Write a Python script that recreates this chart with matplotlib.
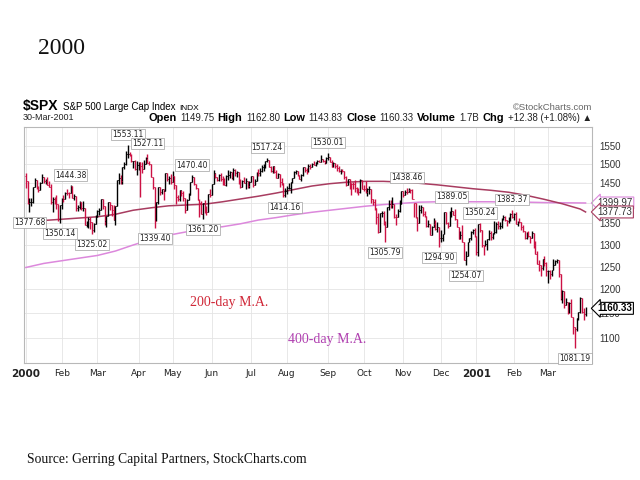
import matplotlib
matplotlib.use('Agg')
import numpy as np
import matplotlib.pyplot as plt
from matplotlib.offsetbox import TextArea, HPacker, AnnotationBbox

# daily S&P 500 bars, 3 Jan 2000 .. 30 Mar 2001
closes = [
    # Jan 2000
    1455.22, 1399.42, 1402.11, 1403.45, 1441.47, 1457.60, 1438.56, 1432.25, 1449.68, 1465.15,
    1455.14, 1455.90, 1445.57, 1441.36, 1401.53, 1410.03, 1404.09, 1398.56, 1360.16, 1394.46,
    # Feb
    1409.28, 1409.12, 1424.97, 1424.37, 1424.24, 1441.72, 1411.71, 1416.83, 1387.12, 1389.94,
    1402.05, 1387.67, 1388.26, 1346.09, 1352.17, 1360.69, 1353.43, 1333.36, 1348.05, 1366.42,
    # Mar
    1379.19, 1381.76, 1409.17, 1391.28, 1355.62, 1366.70, 1401.69, 1395.07, 1383.62, 1359.15,
    1392.14, 1458.47, 1464.47, 1456.63, 1493.87, 1500.64, 1527.35, 1527.46, 1523.86, 1507.73,
    1508.52, 1487.92, 1498.58,
    # Apr
    1505.97, 1494.73, 1487.37, 1501.34, 1516.35, 1504.46, 1500.59, 1467.17, 1440.51, 1356.56,
    1401.44, 1441.61, 1427.47, 1434.54, 1429.86, 1477.44, 1460.99, 1464.92, 1452.43,
    # May
    1468.25, 1446.29, 1415.10, 1409.57, 1432.63, 1424.17, 1412.14, 1383.05, 1407.81, 1420.96,
    1452.36, 1466.04, 1447.80, 1437.21, 1406.95, 1400.72, 1373.86, 1399.05, 1381.52, 1378.02,
    1422.45, 1420.60,
    # Jun
    1448.81, 1477.26, 1467.63, 1457.84, 1471.36, 1461.67, 1456.95, 1446.00, 1469.44, 1470.54,
    1478.73, 1464.46, 1486.00, 1475.95, 1479.13, 1452.18, 1441.48, 1455.31, 1450.55, 1454.82,
    1442.39, 1454.60,
    # Jul
    1469.54, 1446.23, 1456.67, 1478.90, 1475.62, 1480.88, 1492.92, 1495.84, 1509.98, 1510.49,
    1493.74, 1481.96, 1495.57, 1480.19, 1464.29, 1474.47, 1452.42, 1449.62, 1419.89, 1430.83,
    # Aug
    1438.10, 1438.70, 1452.56, 1462.93, 1479.32, 1482.80, 1472.87, 1460.25, 1471.84, 1491.56,
    1484.43, 1479.85, 1496.07, 1491.72, 1499.48, 1498.13, 1505.97, 1508.31, 1506.45, 1514.09,
    1509.84, 1502.59, 1517.68,
    # Sep
    1520.77, 1507.08, 1492.25, 1502.51, 1494.50, 1489.26, 1481.99, 1484.91, 1480.87, 1465.81,
    1444.51, 1459.90, 1451.34, 1449.05, 1448.72, 1439.03, 1427.21, 1426.57, 1458.29, 1436.51,
    # Oct
    1436.23, 1426.46, 1434.32, 1436.28, 1408.99, 1402.03, 1387.02, 1364.59, 1329.78, 1374.17,
    1374.62, 1349.97, 1342.13, 1388.76, 1396.93, 1395.78, 1398.13, 1364.90, 1364.44, 1379.58,
    1398.66, 1429.40,
    # Nov
    1421.22, 1428.32, 1426.69, 1432.19, 1431.87, 1409.28, 1400.14, 1365.98, 1351.26, 1382.95,
    1389.81, 1372.32, 1367.72, 1342.62, 1347.35, 1322.36, 1341.77, 1348.97, 1336.09, 1341.93,
    1314.95,
    # Dec
    1315.23, 1324.97, 1376.54, 1351.46, 1343.55, 1369.89, 1380.20, 1371.18, 1359.99, 1340.93,
    1312.15, 1322.74, 1305.60, 1264.74, 1274.86, 1305.95, 1315.19, 1328.92, 1334.22, 1320.28,
    # Jan 2001
    1283.27, 1347.56, 1333.34, 1298.35, 1295.86, 1300.80, 1313.27, 1326.82, 1318.55, 1326.65,
    1329.47, 1347.97, 1342.54, 1342.90, 1360.40, 1364.30, 1357.51, 1354.95, 1364.17, 1373.73,
    1366.01,
    # Feb
    1373.47, 1349.47, 1354.31, 1352.26, 1340.89, 1332.53, 1314.76, 1330.31, 1318.80, 1315.92,
    1326.61, 1301.53, 1278.94, 1255.27, 1252.82, 1245.86, 1267.65, 1257.94, 1239.94,
    # Mar
    1241.23, 1234.18, 1241.41, 1253.80, 1261.89, 1264.74, 1233.42, 1180.16, 1197.66, 1166.71,
    1173.56, 1150.53, 1170.81, 1142.62, 1122.14, 1117.58, 1139.83, 1152.69, 1182.17, 1153.29,
    1147.95, 1160.33,
]

highs = [
    1478.00, 1455.22, 1413.27, 1411.90, 1441.47, 1464.36, 1458.66, 1442.60, 1454.32, 1473.00,
    1465.71, 1461.32, 1465.71, 1454.97, 1448.00, 1414.90, 1416.00, 1418.86, 1398.56, 1394.48,
    1412.49, 1420.61, 1427.38, 1435.91, 1427.38, 1444.38, 1441.72, 1422.10, 1416.83, 1395.46,
    1404.55, 1403.39, 1404.55, 1388.59, 1356.20, 1365.07, 1365.10, 1353.43, 1351.10, 1369.63,
    1383.46, 1387.17, 1410.88, 1409.17, 1391.28, 1367.78, 1402.34, 1401.69, 1395.07, 1395.16,
    1393.16, 1458.47, 1477.33, 1470.30, 1493.87, 1505.08, 1534.63, 1553.11, 1534.25, 1527.46,
    1510.00, 1512.63, 1509.26,
    1507.00, 1505.97, 1506.00, 1511.84, 1518.68, 1527.11, 1509.29, 1500.59, 1467.17, 1440.51,
    1401.44, 1441.61, 1441.61, 1436.00, 1434.54, 1477.67, 1477.44, 1470.00, 1473.62,
    1481.51, 1468.25, 1446.29, 1420.99, 1433.00, 1432.63, 1430.28, 1412.14, 1410.03, 1425.78,
    1452.36, 1470.40, 1466.04, 1447.80, 1437.21, 1410.55, 1403.77, 1399.05, 1407.48, 1391.42,
    1422.45, 1434.49,
    1448.81, 1483.63, 1477.28, 1467.63, 1474.64, 1475.65, 1468.00, 1462.93, 1470.42, 1483.62,
    1482.04, 1480.77, 1488.93, 1487.00, 1482.19, 1479.13, 1459.94, 1459.66, 1467.63, 1465.00,
    1454.82, 1454.68,
    1469.54, 1469.54, 1461.65, 1480.00, 1486.56, 1489.75, 1497.69, 1501.39, 1509.98, 1517.24,
    1510.49, 1494.50, 1495.63, 1495.57, 1485.88, 1476.23, 1474.47, 1464.74, 1449.62, 1437.65,
    1442.93, 1451.59, 1454.19, 1462.93, 1480.80, 1484.52, 1483.06, 1472.87, 1475.15, 1491.64,
    1491.56, 1490.00, 1499.47, 1499.44, 1502.84, 1508.45, 1507.20, 1511.16, 1512.61, 1525.21,
    1514.81, 1510.49, 1518.49,
    1530.01, 1520.77, 1512.61, 1506.23, 1502.51, 1500.52, 1496.65, 1487.45, 1487.12, 1480.96,
    1467.77, 1461.16, 1459.90, 1451.34, 1453.72, 1457.42, 1440.43, 1437.22, 1461.69, 1458.29,
    1445.60, 1454.82, 1439.10, 1443.84, 1436.28, 1409.69, 1408.83, 1387.02, 1374.04, 1374.81,
    1379.16, 1380.99, 1356.65, 1389.93, 1408.47, 1406.96, 1415.10, 1398.13, 1372.72, 1384.57,
    1406.36, 1429.40,
    1429.40, 1433.26, 1438.46, 1438.00, 1436.05, 1436.22, 1400.14, 1400.14, 1365.98, 1394.76,
    1395.96, 1389.81, 1380.10, 1367.72, 1359.23, 1347.35, 1343.83, 1362.50, 1358.81, 1352.38,
    1341.93,
    1334.67, 1324.97, 1376.56, 1376.54, 1353.50, 1380.33, 1389.05, 1380.27, 1385.82, 1359.99,
    1340.93, 1332.32, 1346.44, 1305.60, 1285.31, 1305.97, 1315.94, 1332.03, 1335.93, 1340.10,
    1320.28, 1347.76, 1350.24, 1334.77, 1298.35, 1311.72, 1313.76, 1333.21, 1332.95, 1327.81,
    1354.55, 1352.99, 1354.56, 1353.24, 1362.90, 1369.75, 1367.35, 1357.51, 1365.54, 1375.68,
    1383.37,
    1376.38, 1376.77, 1354.98, 1363.55, 1352.26, 1345.48, 1332.53, 1330.31, 1331.29, 1320.73,
    1331.29, 1326.61, 1307.64, 1285.21, 1263.95, 1252.82, 1267.65, 1272.76, 1259.83,
    1241.84, 1242.55, 1241.41, 1267.42, 1263.86, 1266.50, 1264.74, 1233.42, 1197.83, 1197.66,
    1182.04, 1173.56, 1173.50, 1180.56, 1142.62, 1122.14, 1140.40, 1152.69, 1183.35, 1182.17,
    1161.69, 1162.80,
]

lows = [
    1438.36, 1397.43, 1377.68, 1392.10, 1400.73, 1441.47, 1434.42, 1427.21, 1432.25, 1449.68,
    1451.05, 1448.15, 1445.57, 1439.60, 1397.43, 1378.80, 1398.00, 1385.00, 1356.20, 1350.14,
    1384.79, 1403.50, 1409.12, 1420.09, 1413.33, 1424.24, 1411.65, 1406.81, 1380.90, 1380.07,
    1385.62, 1383.10, 1380.36, 1345.32, 1341.85, 1339.84, 1336.72, 1325.02, 1330.14, 1348.05,
    1364.54, 1370.09, 1381.76, 1386.10, 1345.51, 1342.50, 1366.70, 1381.40, 1366.71, 1358.71,
    1346.89, 1392.14, 1448.78, 1448.49, 1448.49, 1487.09, 1497.48, 1516.93, 1520.99, 1505.34,
    1490.95, 1484.12, 1472.80,
    1485.90, 1416.00, 1478.00, 1486.50, 1501.34, 1504.46, 1497.45, 1465.80, 1436.50, 1339.40,
    1356.56, 1397.60, 1420.27, 1422.27, 1407.13, 1429.86, 1456.98, 1448.60, 1448.15,
    1452.43, 1436.29, 1398.36, 1405.40, 1405.40, 1417.01, 1404.08, 1375.79, 1383.05, 1407.81,
    1420.96, 1452.36, 1446.10, 1436.22, 1406.95, 1365.05, 1372.50, 1361.20, 1374.81, 1369.75,
    1378.02, 1415.50,
    1420.60, 1448.81, 1464.68, 1454.75, 1455.42, 1456.22, 1445.55, 1445.05, 1442.38, 1458.20,
    1463.34, 1460.03, 1459.71, 1470.23, 1466.00, 1448.04, 1438.95, 1441.48, 1450.00, 1435.00,
    1438.71, 1438.68,
    1454.60, 1439.34, 1444.53, 1456.67, 1470.00, 1470.00, 1480.05, 1483.37, 1491.09, 1505.26,
    1491.41, 1478.41, 1477.91, 1477.52, 1463.80, 1462.93, 1440.00, 1445.33, 1414.45, 1414.16,
    1422.85, 1436.47, 1425.43, 1450.00, 1462.93, 1475.15, 1468.80, 1460.25, 1456.15, 1468.56,
    1479.68, 1475.00, 1478.43, 1487.03, 1491.72, 1497.42, 1494.88, 1501.46, 1505.45, 1506.45,
    1505.63, 1501.00, 1502.59,
    1512.61, 1505.34, 1492.12, 1492.25, 1489.88, 1483.01, 1479.67, 1473.61, 1479.25, 1460.22,
    1441.86, 1444.51, 1436.36, 1420.27, 1436.09, 1426.72, 1425.25, 1419.44, 1425.78, 1436.51,
    1429.83, 1425.17, 1416.39, 1422.97, 1400.73, 1394.97, 1383.71, 1349.17, 1328.06, 1329.78,
    1365.76, 1345.32, 1305.79, 1342.13, 1382.50, 1387.53, 1388.13, 1361.83, 1346.62, 1364.44,
    1376.86, 1398.66,
    1415.36, 1421.22, 1421.88, 1426.69, 1424.17, 1409.28, 1366.60, 1363.35, 1332.41, 1351.26,
    1374.75, 1367.29, 1365.97, 1341.77, 1341.55, 1321.89, 1322.36, 1341.77, 1334.97, 1329.28,
    1294.90,
    1307.02, 1307.81, 1324.97, 1349.68, 1339.94, 1343.55, 1364.56, 1370.86, 1358.11, 1340.48,
    1312.15, 1312.15, 1305.60, 1264.68, 1254.07, 1274.86, 1305.95, 1310.96, 1325.78, 1317.51,
    1276.29, 1274.62, 1329.14, 1293.96, 1276.88, 1295.86, 1287.28, 1309.52, 1309.72, 1313.33,
    1325.04, 1326.65, 1336.62, 1336.34, 1339.51, 1357.28, 1354.63, 1342.75, 1350.36, 1356.20,
    1364.13,
    1357.20, 1348.72, 1344.57, 1350.04, 1334.70, 1329.93, 1313.12, 1313.64, 1317.59, 1304.72,
    1315.93, 1293.18, 1278.94, 1255.27, 1239.95, 1228.33, 1241.38, 1252.26, 1228.33,
    1214.50, 1223.59, 1228.69, 1241.41, 1253.80, 1257.21, 1226.27, 1176.78, 1171.50, 1160.61,
    1166.71, 1148.64, 1150.53, 1141.83, 1108.55, 1081.19, 1113.86, 1136.19, 1151.47, 1151.43,
    1136.26, 1143.83,
]

close_1999 = 1469.25

month_days = [20, 20, 23, 19, 22, 22, 20, 23, 20, 22, 21, 20, 21, 19, 22]
month_labels = ['2000', 'Feb', 'Mar', 'Apr', 'May', 'Jun', 'Jul', 'Aug', 'Sep', 'Oct',
                'Nov', 'Dec', '2001', 'Feb', 'Mar']

# moving averages read every 10 trading days (last point = 30-Mar-2001)
ma_days = [0, 10, 20, 30, 40, 50, 60, 70, 80, 90, 100, 110, 120, 130, 140, 150, 160,
           170, 180, 190, 200, 210, 220, 230, 240, 250, 260, 270, 280, 290, 300, 310, 313]
ma200 = [1356, 1357, 1360, 1363, 1366, 1372, 1382, 1388, 1393, 1395, 1397, 1403, 1410,
         1417, 1425, 1434, 1443, 1449, 1453, 1455, 1455, 1453, 1450, 1446, 1441, 1436,
         1432, 1427, 1419, 1409, 1398, 1385, 1377.73]
ma400 = [1248, 1257, 1263, 1269, 1275, 1285, 1299, 1312, 1322, 1330, 1338, 1342, 1349,
         1358, 1364, 1371, 1377, 1382, 1387, 1392, 1396, 1399, 1402, 1403, 1403, 1403,
         1403, 1402, 1402, 1401, 1400.5, 1400.1, 1399.97]

peak_labels = [1553.11, 1527.11, 1444.38, 1470.40, 1517.24, 1530.01, 1438.46,
               1389.05, 1350.24, 1383.37]
trough_labels = [1377.68, 1350.14, 1325.02, 1339.40, 1361.20, 1414.16, 1305.79,
                 1294.90, 1254.07, 1081.19]

y_ticks = [1100, 1150, 1200, 1250, 1300, 1350, 1400, 1450, 1500, 1550]

c_up = 'black'
c_dn = '#cc1144'
c_ma200 = '#a83c60'
c_ma400 = '#dc88dc'

fig = plt.figure(figsize=(6.4, 4.8), dpi=100)
fig.patch.set_facecolor('white')
ax = fig.add_axes([24 / 640, 1 - 363 / 480, 568 / 640, 236 / 480])

x = np.arange(len(closes))
cl = np.array(closes)
opens = np.concatenate([[close_1999], cl[:-1]])
colors = [c_dn if c < o else c_up for c, o in zip(cl, opens)]

ax.plot(ma_days, ma400, color=c_ma400, lw=1.1, zorder=2)
ax.plot(ma_days, ma200, color=c_ma200, lw=1.1, zorder=2)

ax.vlines(x, lows, highs, colors=colors, lw=1.0, zorder=3)
ax.hlines(opens, x - 0.5, x, colors=colors, lw=0.7, zorder=3)
ax.hlines(cl, x, x + 0.5, colors=colors, lw=0.7, zorder=3)

ax.set_yscale('log')
ax.set_ylim(1052.6, 1603)
ax.set_xlim(-1.06, 316.6)

month_starts = np.cumsum([0] + month_days[:-1])
ax.set_xticks(month_starts)
ax.set_xticklabels(month_labels, fontsize=6.5, color='#222222')
for lab in ax.get_xticklabels():
    if lab.get_text() in ('2000', '2001'):
        lab.set_fontweight('bold')
        lab.set_fontsize(7.5)

ax.yaxis.tick_right()
ax.set_yticks(y_ticks)
ax.set_yticklabels([str(v) for v in y_ticks], fontsize=7, family='Liberation Sans',
                   color='#333333')
ax.yaxis.set_minor_locator(plt.NullLocator())
ax.tick_params(axis='both', length=0)
ax.tick_params(axis='y', pad=5)
ax.tick_params(axis='x', pad=4)

ax.grid(True, color='#e4e4e4', lw=0.6, zorder=0)
ax.set_axisbelow(True)
for s in ax.spines.values():
    s.set_color('#b8b8b8')
    s.set_linewidth(0.8)

# high / low call-outs
box = dict(boxstyle='square,pad=0.15', fc='white', ec='#a0a0a0', lw=0.5)
for v in peak_labels:
    i = highs.index(v)
    ax.annotate(f'{v:.2f}', (i, v), xytext=(0, 7.5), textcoords='offset points',
                ha='center', va='center', fontsize=5.5, color='#222222', bbox=box, zorder=5)
for v in trough_labels:
    i = lows.index(v)
    ax.annotate(f'{v:.2f}', (i, v), xytext=(0, -7.5), textcoords='offset points',
                ha='center', va='center', fontsize=5.5, color='#222222', bbox=box, zorder=5)

# right-edge value tags
tag = dict(xycoords=('axes fraction', 'data'), xytext=(4, 0), textcoords='offset points',
           ha='left', va='center', annotation_clip=False, family='Liberation Sans')
ax.annotate(f'{ma400[-1]:.2f}', (1, ma400[-1]), fontsize=7, color='#333333', zorder=1,
            bbox=dict(boxstyle='larrow,pad=0.1', fc='white', ec=c_ma400, lw=0.8), **tag)
ax.annotate(f'{ma200[-1]:.2f}', (1, ma200[-1]), fontsize=7, color='#333333', zorder=6,
            bbox=dict(boxstyle='larrow,pad=0.1', fc='white', ec=c_ma200, lw=0.8), **tag)
ax.annotate(f'{closes[-1]:.2f}', (1, closes[-1]), fontsize=7, fontweight='bold',
            color='black', zorder=6,
            bbox=dict(boxstyle='larrow,pad=0.1', fc='white', ec='black', lw=0.8), **tag)

ax.text(0.292, 0.255, '200-day M.A.', transform=ax.transAxes, fontsize=10,
        family='Liberation Serif', color='#d02838', va='center')
ax.text(0.465, 0.10, '400-day M.A.', transform=ax.transAxes, fontsize=10,
        family='Liberation Serif', color='#b040b0', va='center')

# header lines
line1 = HPacker(children=[
    TextArea(r'\$SPX', textprops=dict(fontsize=10, fontweight='bold', family='Liberation Sans')),
    TextArea('S&P 500 Large Cap Index', textprops=dict(fontsize=7, family='Liberation Sans')),
    TextArea('INDX', textprops=dict(fontsize=6, family='Liberation Sans')),
], align='baseline', pad=0, sep=3)
fig.add_artist(AnnotationBbox(line1, (23 / 640, 1 - 106 / 480), xycoords='figure fraction',
                              box_alignment=(0, 0.5), frameon=False, pad=0))

bold = dict(fontsize=7.9, fontweight='bold', family='Liberation Sans')
norm = dict(fontsize=6.9, family='Liberation Sans', color='#222222')
parts = [('Open', bold), ('1149.75', norm), ('High', bold), ('1162.80', norm),
         ('Low', bold), ('1143.83', norm), ('Close', bold), (f'{closes[-1]:.2f}', norm),
         ('Volume', bold), ('1.7B', norm), ('Chg', bold), ('+12.38 (+1.08%) \u25b2', norm)]
line2 = HPacker(children=[TextArea(t, textprops=p) for t, p in parts],
                align='baseline', pad=0, sep=2.5)
fig.add_artist(AnnotationBbox(line2, (592 / 640, 1 - 118 / 480), xycoords='figure fraction',
                              box_alignment=(1, 0.5), frameon=False, pad=0))

fig.text(23 / 640, 1 - 118 / 480, '30-Mar-2001', fontsize=6.5, family='Liberation Sans',
         va='center', color='#222222')
fig.text(592 / 640, 1 - 107 / 480, '\u00a9StockCharts.com', fontsize=6.8,
         family='Liberation Sans', ha='right', va='center', color='#666666')

fig.text(38 / 640, 1 - 48 / 480, '2000', fontsize=17, family='Liberation Serif',
         va='center', color='#111111')
fig.text(27 / 640, 1 - 459 / 480, 'Source: Gerring Capital Partners, StockCharts.com',
         fontsize=9.8, family='Liberation Serif', va='center', color='#111111')

fig.savefig('out.png', dpi=100)
